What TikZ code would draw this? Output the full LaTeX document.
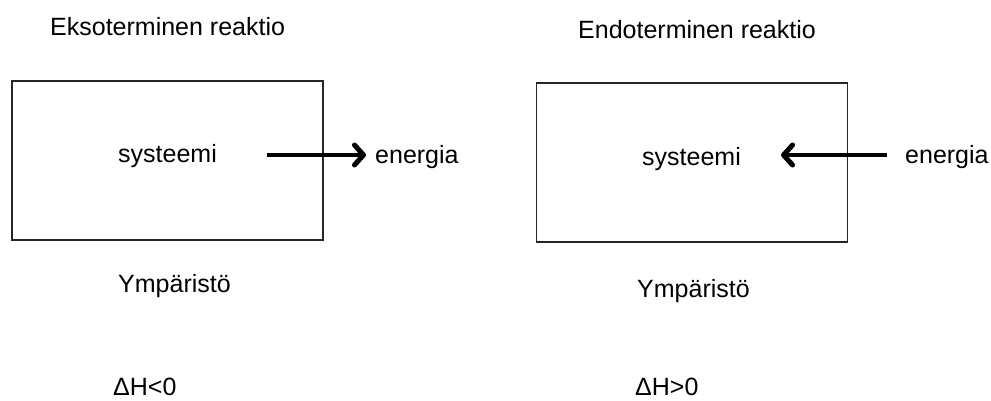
\documentclass[tikz,border=0pt]{standalone}
\usepackage{fontspec}
\setmainfont{Liberation Sans}
\usetikzlibrary{arrows.meta,positioning}

\begin{document}
\begin{tikzpicture}[x=1pt, y=-1pt, font=\fontsize{25}{30}\selectfont, >={Straight Barb[length=9pt, width=20pt, line width=5pt, line cap=round, line join=round]}]
\tikzstyle{lbl}=[anchor=base west, inner sep=0pt, text=black]
\tikzstyle{sysbox}=[draw=black!85, line width=1.3pt, minimum width=311pt, minimum height=159pt, inner sep=0pt]
\tikzstyle{flow}=[->, line width=4.5pt]
\useasboundingbox (0,0) rectangle (991,400);
% exoterminen
\node[lbl] (exotitle) at (50,35) {Eksoterminen reaktio};
\node[sysbox] (exobox) at (167.5,160.5) {};
\node[lbl] (exosys) at (118,162) {systeemi};
\node[lbl] (exoen) at (375,163) {energia};
\node[lbl] (exoymp) at (118,292) {Ympäristö};
\node[lbl] (exodh) at (113,395) {ΔH<0};
\coordinate (exostart) at ([xshift=50pt]exosys.east |- 0,155);
\draw[flow] (exostart) -- ([xshift=-9pt]exoen.west |- exostart);
% endoterminen
\node[lbl] (endotitle) at (578,38) {Endoterminen reaktio};
\node[sysbox] (endobox) at (692,162.5) {};
\node[lbl] (endosys) at (642,165) {systeemi};
\node[lbl] (endoen) at (905,163) {energia};
\node[lbl] (endoymp) at (637,297) {Ympäristö};
\node[lbl] (endodh) at (635,395) {ΔH>0};
\coordinate (endostart) at ([xshift=-18pt]endoen.west |- 0,155);
\draw[flow] (endostart) -- ([xshift=40pt]endosys.east |- endostart);
\end{tikzpicture}
\end{document}
